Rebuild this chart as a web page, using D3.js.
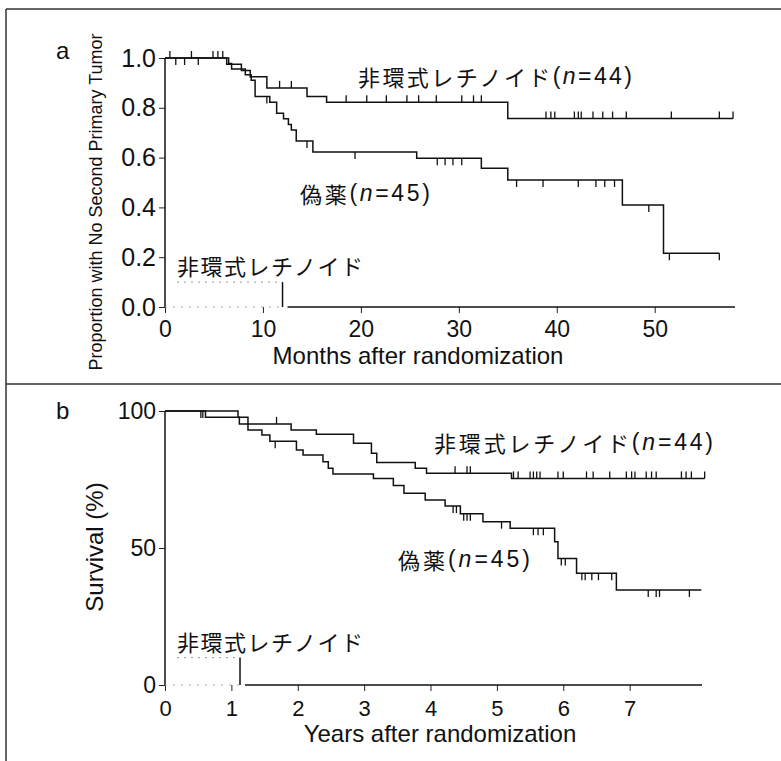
<!DOCTYPE html>
<html lang="ja">
<head>
<meta charset="UTF-8">
<script src="https://d3js.org/d3.v7.min.js"></script>
<style>
  body { margin: 0; background: #fff; }
  svg { display: block; font-family: "Liberation Sans", Arial, sans-serif; }
  .jp { font-family: "Noto Sans CJK JP", sans-serif; }
</style>
<title>D3</title>
</head>
<body>
<div class="canvas"></div>
<script>
// ---- panel a : second primary tumor ----
const monthTicks = [0, 10, 20, 30, 40, 50]
const propTicks = [0, 0.2, 0.4, 0.6, 0.8, 1.0]
// [months, proportion] step points
const retinoidA = [[0, 1], [6.3, 0.975], [7.8, 0.95], [8.7, 0.925], [10.4, 0.88], [14.5, 0.845],
  [16.5, 0.822], [35.0, 0.757], [58.0, 0.757]]
const retinoidACens = [0.5, 2.7, 4.9, 5.4, 5.9, 11.7, 12.9, 18.5, 20.6, 22.6, 24.7, 25.9, 27.7,
  30.3, 31.5, 32.3, 38.9, 39.4, 39.8, 41.8, 42.2, 42.5, 43.7, 44.7, 45.7, 47.1, 51.7, 56.6, 58.0]
const placeboA = [[0, 1], [6.5, 0.978], [6.8, 0.956], [8.2, 0.933], [8.8, 0.911], [9.2, 0.845],
  [10.7, 0.822], [11.4, 0.778], [12.1, 0.756], [12.6, 0.733], [12.9, 0.711], [13.4, 0.667],
  [15.1, 0.622], [25.7, 0.597], [32.3, 0.557], [35.0, 0.51], [46.7, 0.41], [50.9, 0.216], [56.6, 0.216]]
const placeboACens = [1.1, 2.0, 3.4, 10.4, 14.5, 19.4, 27.8, 28.6, 29.4, 30.3, 35.9, 38.6, 42.2,
  44.0, 44.9, 45.9, 49.4, 51.5, 56.6]

// ---- panel b : survival ----
const yearTicks = [0, 1, 2, 3, 4, 5, 6, 7]
const survTicks = [0, 50, 100]
const retinoidB = [[0, 100], [0.61, 97.7], [1.12, 95.3], [1.9, 93.1], [2.28, 91.5], [2.84, 88.2],
  [3.11, 84.6], [3.19, 81.2], [3.77, 79.1], [3.94, 77.3], [5.22, 75.4], [8.13, 75.4]]
const retinoidBCens = [1.68, 4.37, 4.55, 4.6, 5.25, 5.32, 5.5, 5.55, 5.6, 5.65, 5.92, 6.0, 6.35,
  6.45, 6.7, 6.95, 7.03, 7.08, 7.25, 7.33, 7.4, 7.78, 7.85, 7.93, 8.13]
const placeboB = [[0, 100], [1.1, 97.7], [1.25, 93.1], [1.46, 91.2], [1.58, 89.0], [1.98, 85.8],
  [2.08, 83.9], [2.38, 81.5], [2.46, 79.1], [2.53, 77.0], [3.14, 75.4], [3.44, 72.8], [3.6, 70.0],
  [3.92, 67.5], [4.22, 65.3], [4.45, 62.5], [4.79, 59.6], [5.2, 57.2], [5.87, 52.3], [5.92, 46.2],
  [6.2, 40.8], [6.8, 34.7], [8.08, 34.7]]
const placeboBCens = [0.54, 0.57, 1.66, 4.34, 4.39, 4.5, 4.55, 4.6, 5.07, 5.55, 5.62, 5.7, 5.97,
  6.03, 6.28, 6.33, 6.43, 6.53, 6.73, 7.28, 7.4, 7.45, 7.9]

const retinoidName = '非環式レチノイド'
const placeboName = '偽薬'

const W = 781, H = 761
const svg = d3.select('.canvas').append('svg')
  .attr('width', W).attr('height', H)

// frame
const frame = svg.append('g').attr('stroke', '#333').attr('stroke-width', 1.5)
frame.append('line').attr('x1', 6).attr('x2', W).attr('y1', 9).attr('y2', 9)
frame.append('line').attr('x1', 6).attr('x2', 6).attr('y1', 9).attr('y2', H)
frame.append('line').attr('x1', 6).attr('x2', W).attr('y1', 384).attr('y2', 384)

function valueAt(steps, t) {
  let v = steps[0][1]
  for (const s of steps) if (s[0] <= t) v = s[1]
  return v
}

function drawPanel(p) {
  const x = d3.scaleLinear().domain([0, p.xMax]).range([165, p.xEnd])
  const y = d3.scaleLinear().domain([0, p.yMax]).range([p.y0, p.yTop])
  const g = svg.append('g')

  const yAxis = d3.axisLeft(y).tickValues(p.yTicks).tickSize(6).tickPadding(3)
    .tickFormat(p.yFmt)
  const ya = g.append('g').attr('transform', 'translate(165,0)').call(yAxis)
  ya.select('.domain').remove()
  ya.selectAll('text').style('font-size', p.yFont + 'px').attr('fill', '#111')
  ya.selectAll('line').attr('stroke', '#222')
  g.append('line').attr('x1', 165).attr('x2', 165).attr('y1', y(p.yMax)).attr('y2', y(0))
    .attr('stroke', '#111').attr('stroke-width', 1.5)

  const xAxis = d3.axisBottom(x).tickValues(p.xTicks).tickSize(6).tickPadding(p.xPad)
  const xa = g.append('g').attr('transform', `translate(0,${p.y0})`).call(xAxis)
  xa.select('.domain').remove()
  xa.selectAll('text').style('font-size', p.xFont + 'px').attr('fill', '#111')
  xa.selectAll('line').attr('stroke', '#222')
  // faint part of x axis under the legend, solid after it
  g.append('line').attr('x1', x(0)).attr('x2', x(p.legEnd))
    .attr('y1', y(0)).attr('y2', y(0))
    .attr('stroke', '#aaa').attr('stroke-dasharray', '2,6')
  g.append('line').attr('x1', x(p.legEnd) + 5).attr('x2', x(p.xMax))
    .attr('y1', y(0)).attr('y2', y(0)).attr('stroke', '#111').attr('stroke-width', 1.5)

  // legend remnant
  g.append('text').attr('class', 'jp').attr('x', 177).attr('y', y(p.legLevel) - 17)
    .attr('dominant-baseline', 'central').style('font-size', '22px').attr('fill', '#111')
    .attr('textLength', 186).attr('lengthAdjust', 'spacing').text(retinoidName)
  g.append('line').attr('x1', 177).attr('x2', x(p.legEnd)).attr('y1', y(p.legLevel))
    .attr('y2', y(p.legLevel)).attr('stroke', '#999').attr('stroke-dasharray', '2,5')
  g.append('line').attr('x1', x(p.legEnd)).attr('x2', x(p.legEnd)).attr('y1', y(p.legLevel))
    .attr('y2', y(0)).attr('stroke', '#111').attr('stroke-width', 1.5)

  // curves
  const line = d3.line().x(d => x(d[0])).y(d => y(d[1])).curve(d3.curveStepAfter)
  const curves = [[p.ret, p.retCens, -1], [p.pla, p.plaCens, 1]]
  curves.forEach(([steps, cens, dir]) => {
    g.append('path').attr('d', line(steps)).attr('fill', 'none')
      .attr('stroke', '#111').attr('stroke-width', 1.5)
    g.selectAll(null).data(cens).enter().append('line')
      .attr('x1', d => x(d)).attr('x2', d => x(d))
      .attr('y1', d => y(valueAt(steps, d)))
      .attr('y2', d => y(valueAt(steps, d)) + dir * 7)
      .attr('stroke', '#111').attr('stroke-width', 1.3)
  })

  // group labels
  const lab = (lx, ly, name, n, len) => {
    const t = g.append('text').attr('x', lx).attr('y', ly).attr('dominant-baseline', 'central')
      .attr('fill', '#111').attr('textLength', len).attr('lengthAdjust', 'spacing')
    t.append('tspan').attr('class', 'jp').style('font-size', '22px').text(name)
    t.append('tspan').style('font-size', '23px').text('(')
    t.append('tspan').style('font-size', '23px').style('font-style', 'italic').text('n')
    t.append('tspan').style('font-size', '23px').text('=' + n + ')')
  }
  lab(p.retLab[0], p.retLab[1], retinoidName, 44, p.retLab[2])
  lab(p.plaLab[0], p.plaLab[1], placeboName, 45, p.plaLab[2])

  // panel letter and titles
  g.append('text').attr('x', 56).attr('y', p.letterY).attr('dominant-baseline', 'central')
    .style('font-size', '24px').attr('fill', '#111').text(p.letter)
  g.append('text').attr('x', p.xTitle[0]).attr('y', p.xTitle[1]).attr('text-anchor', 'middle')
    .style('font-size', '24px').attr('fill', '#111').text(p.xLabel)
  g.append('text').attr('transform', `translate(${p.yTitle[0]},${p.yTitle[1]}) rotate(-90)`)
    .attr('text-anchor', 'middle').style('font-size', p.yTitle[2] + 'px').attr('fill', '#111')
    .text(p.yLabel)
}

drawPanel({
  letter: 'a', letterY: 50, xMax: 58.2, xEnd: 735, yMax: 1, y0: 307, yTop: 58,
  xTicks: monthTicks, yTicks: propTicks, yFmt: d3.format('.1f'), yFont: 25, xFont: 23, xPad: 8,
  ret: retinoidA, retCens: retinoidACens, pla: placeboA, plaCens: placeboACens,
  legLevel: 0.1, legEnd: 12.0,
  retLab: [358, 76, 274], plaLab: [300, 193, 130],
  xLabel: 'Months after randomization', xTitle: [418, 364],
  yLabel: 'Proportion with No Second Primary Tumor', yTitle: [102, 202, 18]
})

drawPanel({
  letter: 'b', letterY: 410, xMax: 8.09, xEnd: 702, yMax: 100, y0: 685, yTop: 411,
  xTicks: yearTicks, yTicks: survTicks, yFmt: d3.format('d'), yFont: 23, xFont: 22, xPad: 9,
  ret: retinoidB, retCens: retinoidBCens, pla: placeboB, plaCens: placeboBCens,
  legLevel: 10, legEnd: 1.13,
  retLab: [434, 442, 279], plaLab: [398, 559, 132],
  xLabel: 'Years after randomization', xTitle: [440, 742],
  yLabel: 'Survival  (%)', yTitle: [103, 547, 24]
})
</script>
</body>
</html>
